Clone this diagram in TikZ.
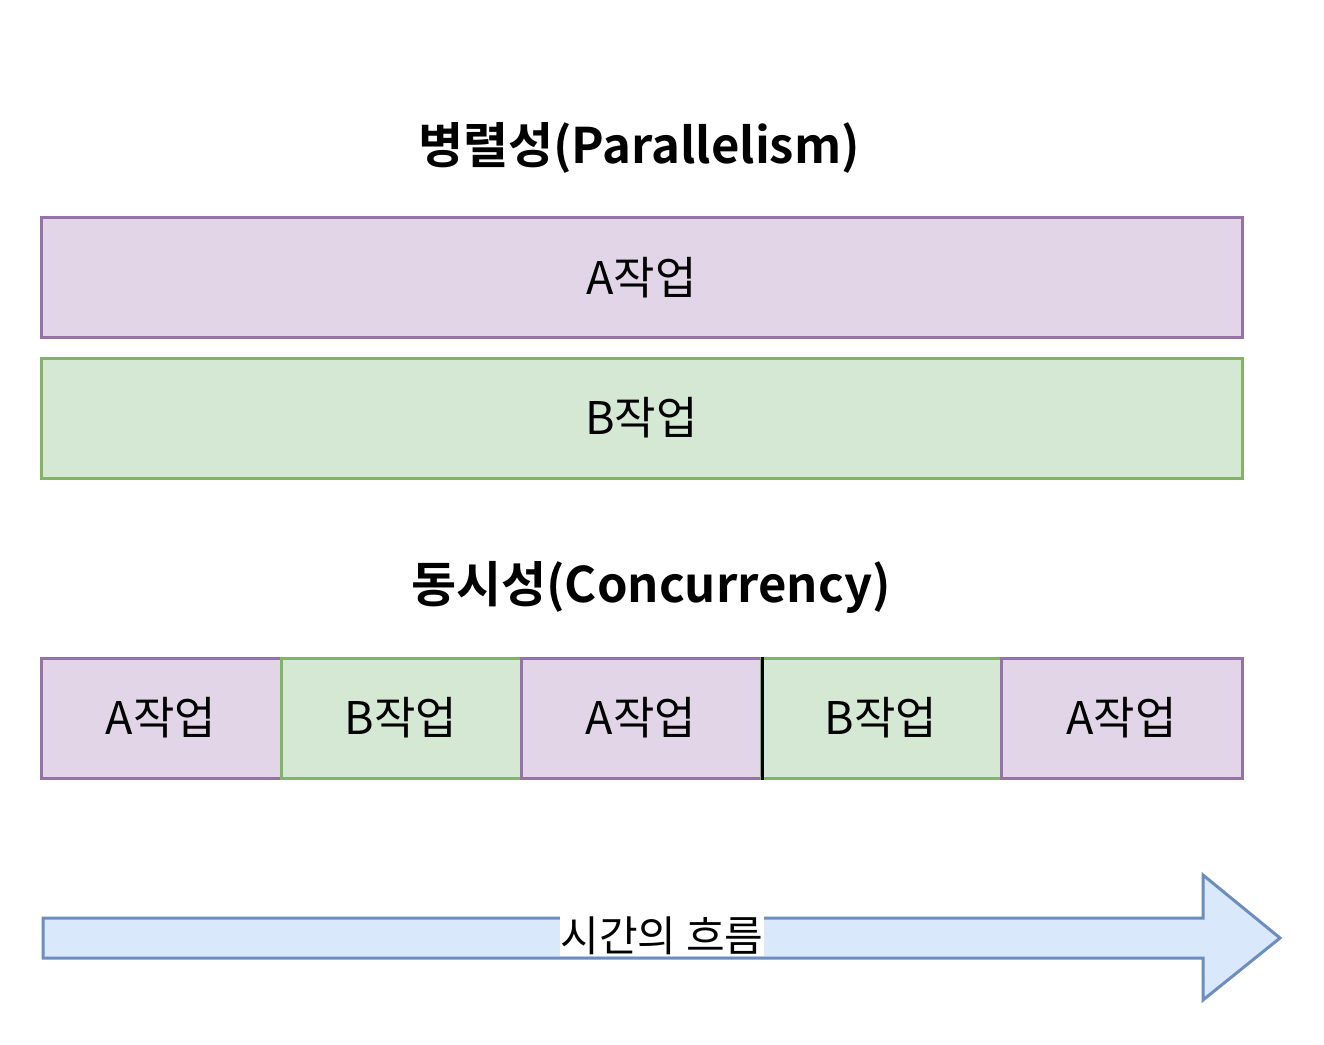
\documentclass[tikz,border=0pt]{standalone}
\usepackage{fontspec}
\setmainfont{Noto Sans CJK KR}
\newfontfamily\krbold{Noto Sans CJK KR Bold}
\begin{document}
\begin{tikzpicture}[x=1pt,y=-1pt,
  purplebox/.style={draw=purpleline,fill=purplefill,line width=3pt,minimum height=120pt,inner sep=0pt,font=\fontsize{45}{48}\selectfont},
  greenbox/.style={draw=greenline,fill=greenfill,line width=3pt,minimum height=120pt,inner sep=0pt,font=\fontsize{45}{48}\selectfont},
  titletext/.style={font=\krbold\fontsize{49}{52}\selectfont,inner sep=0pt},
  flowlabel/.style={fill=white,inner sep=1pt,font=\fontsize{42}{46}\selectfont}]
\definecolor{purplefill}{HTML}{E1D5E7}
\definecolor{purpleline}{HTML}{9673A6}
\definecolor{greenfill}{HTML}{D5E8D4}
\definecolor{greenline}{HTML}{82B366}
\definecolor{bluefill}{HTML}{DAE8FC}
\definecolor{blueline}{HTML}{6C8EBF}
\useasboundingbox (0,0) rectangle (1324,1044);
\node[titletext] (t1) at (639,148) {병렬성(Parallelism)};
\node[purplebox,minimum width=1201pt] (pa) at (641.5,277.5) {A작업};
\node[greenbox,minimum width=1201pt] (pb) at (641.5,418) {B작업};
\node[titletext] (t2) at (651,587) {동시성(Concurrency)};
\node[purplebox,minimum width=240pt] (c1) at (161,718) {A작업};
\node[greenbox,minimum width=240pt] (c2) at (401,718) {B작업};
\node[purplebox,minimum width=240pt] (c3) at (641,718) {A작업};
\node[greenbox,minimum width=240pt] (c4) at (881,718) {B작업};
\node[purplebox,minimum width=241pt] (c5) at (1121.5,718) {A작업};
\draw[black,line width=3pt] (c3.north east) -- (c3.south east);
\coordinate (s1) at (43,918);
\coordinate (s2) at (1203,918);
\coordinate (h1) at (1203,875);
\coordinate (tip) at (1280,938);
\coordinate (h2) at (1203,1000);
\coordinate (s3) at (1203,958);
\coordinate (s4) at (43,958);
\draw[draw=blueline,fill=bluefill,line width=3pt] (s1) -- (s2) -- (h1) -- (tip) -- (h2) -- (s3) -- (s4) -- cycle;
\node[flowlabel] (fl) at (662,936) {시간의 흐름};
\end{tikzpicture}
\end{document}
